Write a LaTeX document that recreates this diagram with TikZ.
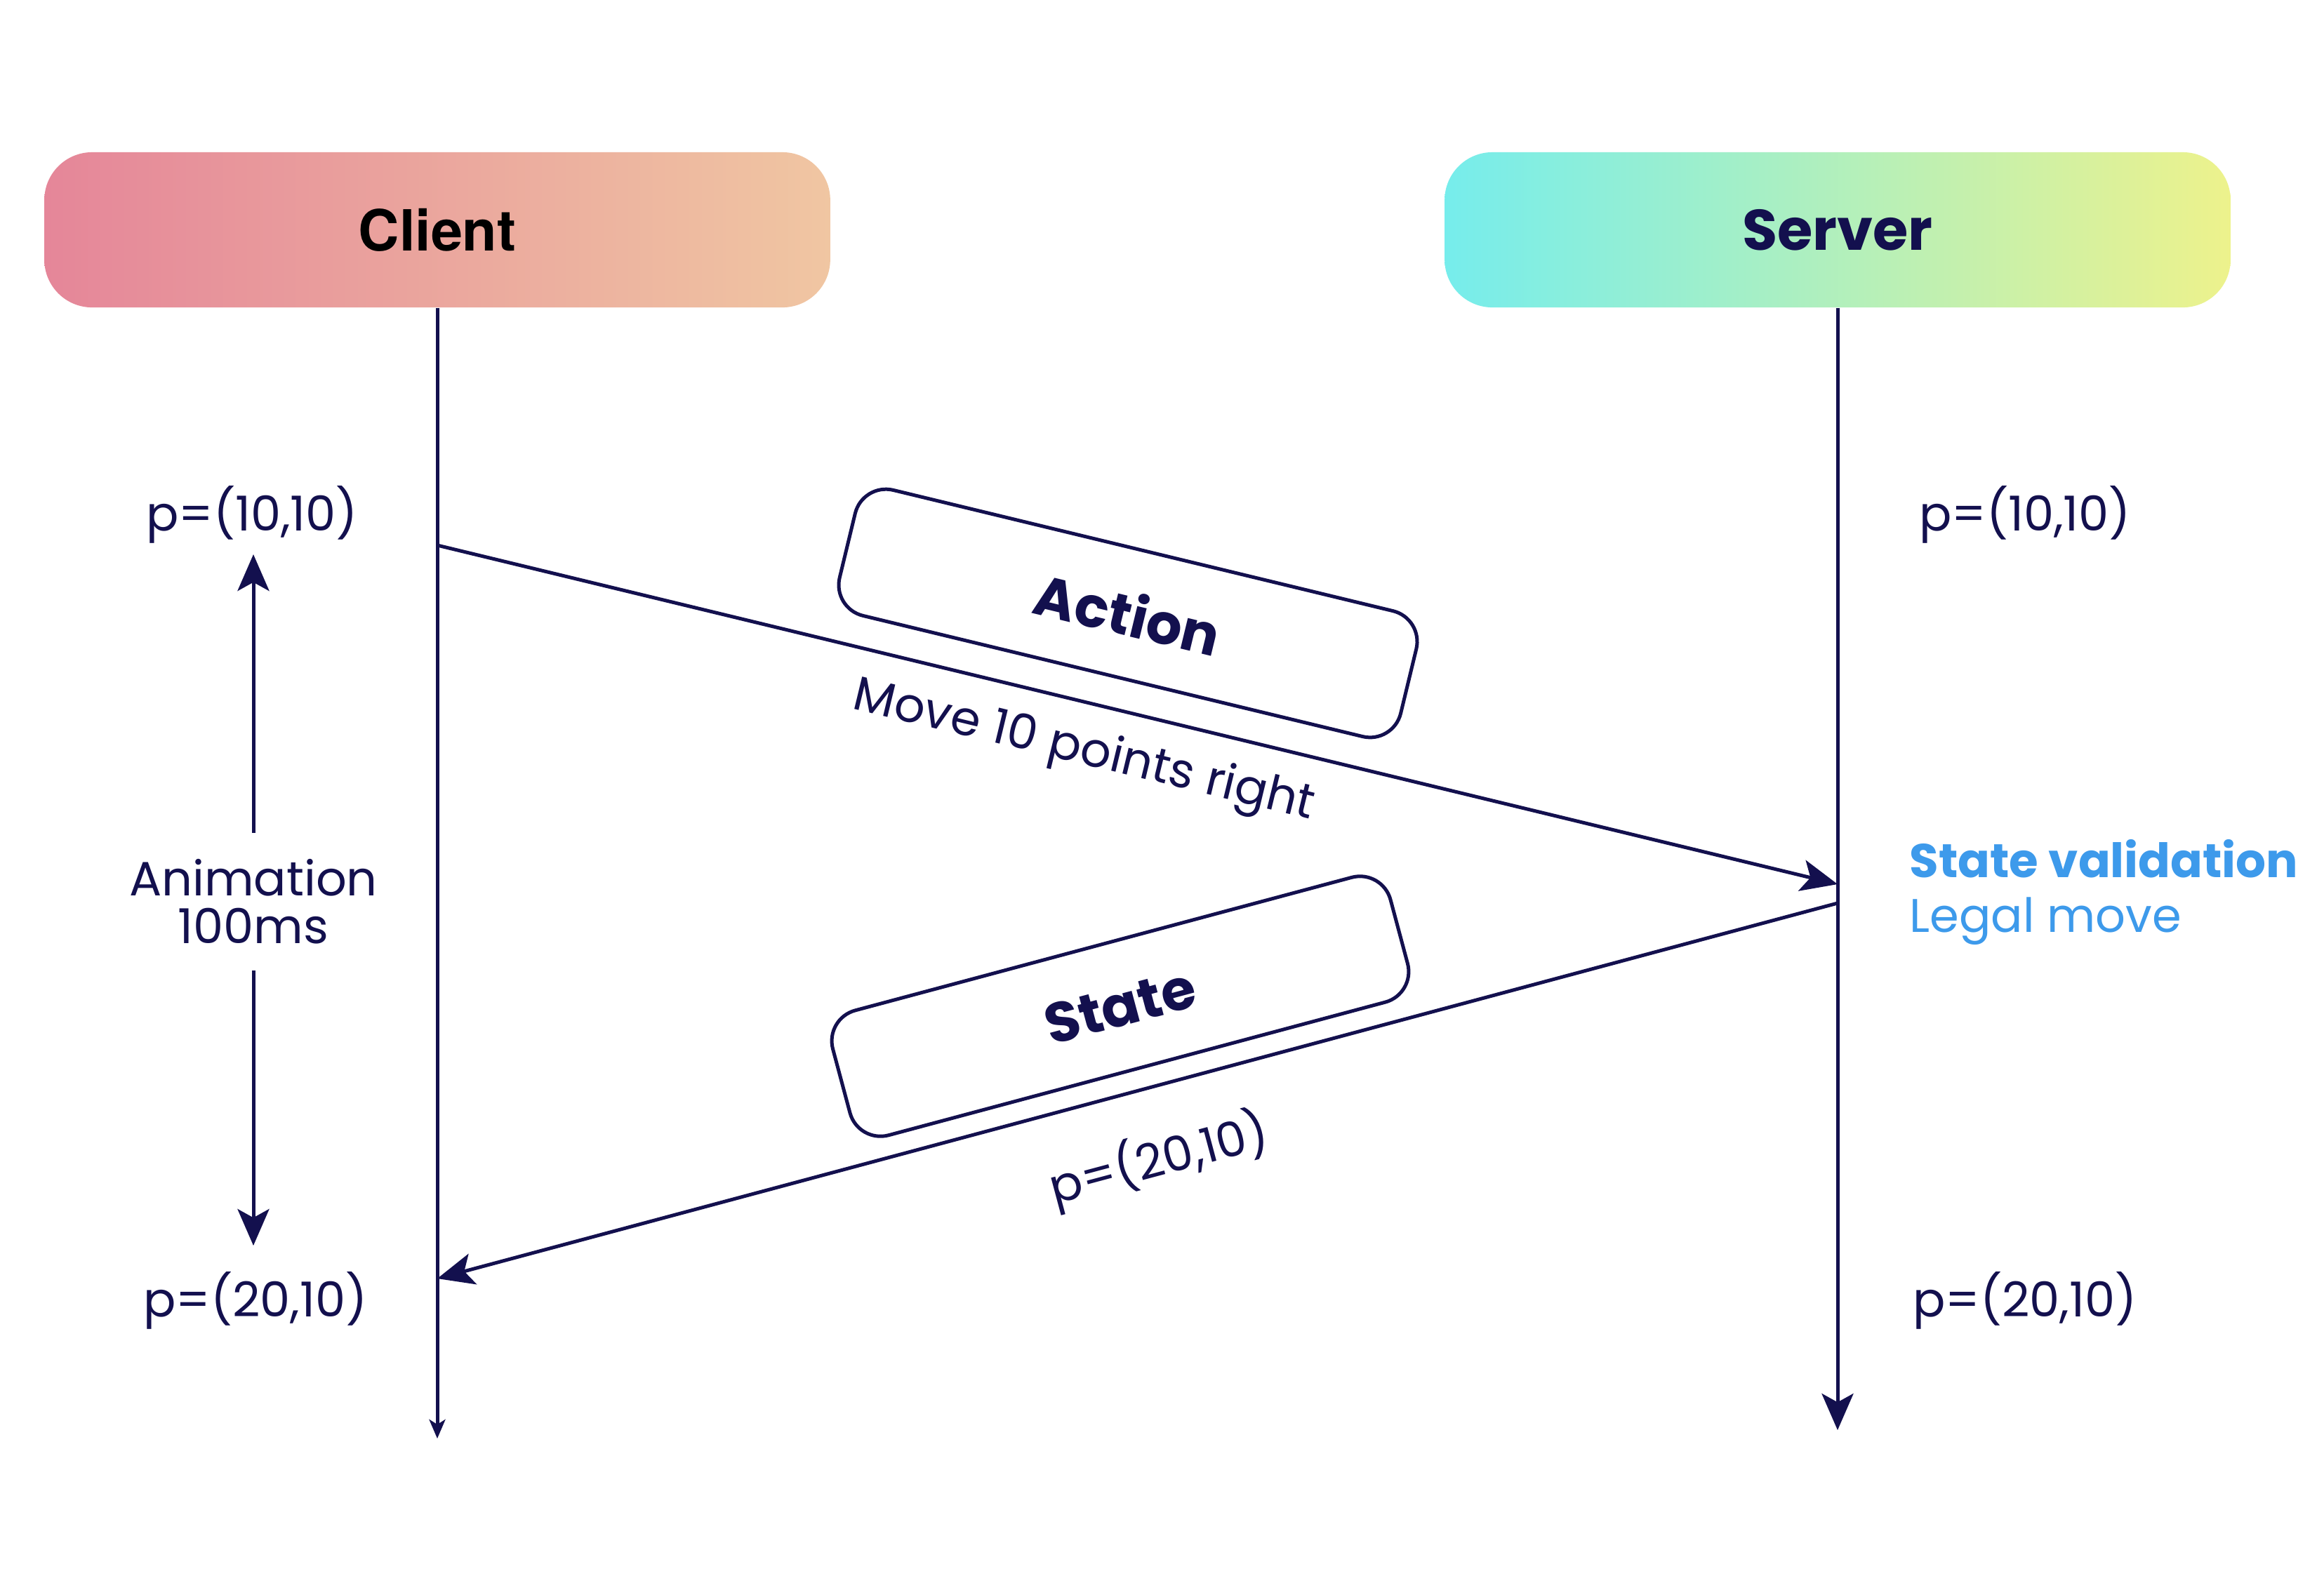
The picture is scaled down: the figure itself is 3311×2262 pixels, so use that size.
\documentclass[tikz,border=0pt]{standalone}
\usepackage{fontspec}
\setmainfont{Poppins}
\newfontfamily\heros{TeX Gyre Heros}
\usetikzlibrary{arrows.meta}
\definecolor{navy}{HTML}{13104E}
\definecolor{vblue}{HTML}{3D9AEB}
\definecolor{cla}{RGB}{229,134,153}
\definecolor{clb}{RGB}{240,198,162}
\definecolor{sva}{RGB}{118,237,236}
\definecolor{svb}{RGB}{237,242,140}
\begin{document}
\begin{tikzpicture}[x=0.01cm,y=-0.01cm,
  lane/.style={line width=1.42pt, draw=navy},
  bigtip/.style={-{Stealth[length=14.8pt,width=12.8pt,inset=3.5pt]}},
  smalltip/.style={-{Stealth[length=7.7pt,width=6.5pt,inset=2pt]}},
  msg/.style={lane, bigtip},
  headbox/.style={rounded corners=0.68cm, minimum width=11.19cm, minimum height=2.21cm, inner sep=0pt},
  msgbox/.style={draw=navy, line width=1.42pt, rounded corners=0.45cm, minimum width=8.22cm, minimum height=1.84cm, fill=white, text=navy, inner sep=0pt, font=\bfseries\fontsize{22.8}{27}\selectfont},
  lbl/.style={text=navy, inner sep=0pt, font=\fontsize{19.5}{23}\selectfont}
]
\fill[white] (0,0) rectangle (3311,2262);
\useasboundingbox (0,0) rectangle (3311,2262);

% heads
\node[headbox, left color=cla, right color=clb, text=black, font=\heros\bfseries\fontsize{23}{28}\selectfont] (client) at (623,327.5) {Client};
\node[headbox, left color=sva, right color=svb, text=navy, font=\bfseries\fontsize{23.2}{28}\selectfont] (server) at (2618,327.5) {Server};

% lifelines
\coordinate (cend) at (623,2050);
\coordinate (send) at (2618,2038);
\draw[lane, smalltip] (client.south) -- (cend);
\draw[lane, bigtip] (server.south) -- (send);

% messages
\coordinate (c1) at (623,777);
\coordinate (s1) at (2618,1260);
\coordinate (s2) at (2618,1287);
\coordinate (c2) at (623,1822);
\draw[msg] (c1) -- (s1);
\draw[msg] (s2) -- (c2);

\node[msgbox, rotate=-13.6] (action) at (1607,874) {Action};
\node[msgbox, rotate=15] (state) at (1596,1434) {State};
\node[lbl, rotate=-13.6] (movelbl) at (1544,1072) {Move 10 points right};
\node[lbl, rotate=15] (newp) at (1651,1653) {p=(20,10)};

% side labels
\node[lbl, anchor=base] (cp1) at (359,756) {p=(10,10)};
\node[lbl, anchor=base] (cp2) at (364,1876) {p=(20,10)};
\node[lbl, anchor=base] (sp1) at (2885,756) {p=(10,10)};
\node[lbl, anchor=base] (sp2) at (2885,1876) {p=(20,10)};

% animation
\node[lbl, align=center, inner xsep=0pt, inner ysep=0.37cm, font=\fontsize{19.5}{19.35}\selectfont] (anim) at (361,1285) {Animation\\100ms};
\coordinate (atop) at (361,790);
\coordinate (abot) at (361,1775);
\draw[msg] (anim.north) -- (atop);
\draw[msg] (anim.south) -- (abot);

% validation
\node[anchor=base west, inner sep=0pt, text=vblue, font=\bfseries\fontsize{19.2}{23}\selectfont] (valid) at (2720,1250) {State validation};
\node[anchor=base west, inner sep=0pt, text=vblue, font=\fontsize{19.1}{23}\selectfont] (legal) at (2720,1328) {Legal move};
\end{tikzpicture}
\end{document}
